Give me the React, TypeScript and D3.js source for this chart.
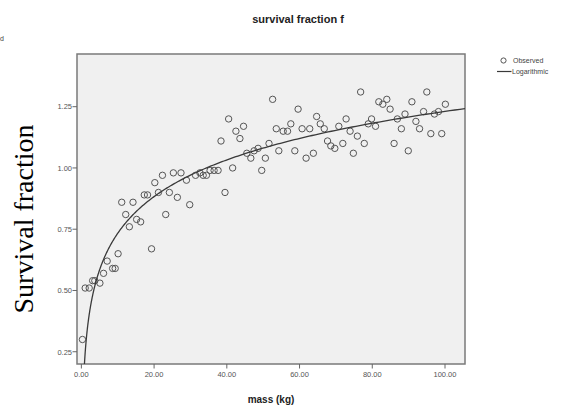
import React from "react";
import * as d3 from "d3";

const mass = [
  0.3, 1.05, 2.15, 3.1, 3.7, 5.1, 6.1, 7.1, 8.6, 9.3,
  10.1, 11.1, 12.2, 13.2, 14.2, 15.2, 16.3, 17.3, 18.2, 19.3,
  20.2, 21.2, 22.3, 23.2, 24.2, 25.3, 26.4, 27.4, 28.9, 29.8,
  31.4, 32.6, 33.5, 34.4, 35.4, 36.5, 37.6, 38.4, 39.5, 40.5,
  41.6, 42.5, 43.6, 44.6, 45.5, 46.6, 47.5, 48.6, 49.6, 50.6,
  51.6, 52.6, 53.6, 54.3, 55.5, 56.7, 57.6, 58.7, 59.6, 60.7,
  61.8, 62.8, 63.8, 64.7, 65.7, 66.8, 67.7, 68.6, 69.7, 70.8,
  71.9, 72.8, 73.9, 74.8, 75.9, 76.8, 77.8, 78.9, 79.8, 80.9,
  81.8, 82.9, 84.0, 84.9, 86.0, 86.9, 88.0, 89.0, 89.9, 90.9,
  92.0, 93.0, 94.1, 95.0, 96.1, 97.1, 98.2, 99.1, 100.1,
];
const survival = [
  0.3, 0.51, 0.51, 0.54, 0.54, 0.53, 0.57, 0.62, 0.59, 0.59,
  0.65, 0.86, 0.81, 0.76, 0.86, 0.79, 0.78, 0.89, 0.89, 0.67,
  0.94, 0.9, 0.97, 0.81, 0.9, 0.98, 0.88, 0.98, 0.95, 0.85,
  0.97, 0.98, 0.97, 0.97, 0.99, 0.99, 0.99, 1.11, 0.9, 1.2,
  1.0, 1.15, 1.12, 1.17, 1.06, 1.04, 1.07, 1.08, 0.99, 1.04,
  1.1, 1.28, 1.16, 1.07, 1.15, 1.15, 1.18, 1.07, 1.24, 1.16,
  1.04, 1.16, 1.06, 1.21, 1.18, 1.16, 1.11, 1.09, 1.08, 1.17,
  1.1, 1.2, 1.15, 1.06, 1.13, 1.31, 1.1, 1.18, 1.2, 1.17,
  1.27, 1.26, 1.28, 1.24, 1.1, 1.2, 1.16, 1.22, 1.07, 1.27,
  1.19, 1.16, 1.23, 1.31, 1.14, 1.22, 1.23, 1.14, 1.26,
];
const xTicks = [0, 20, 40, 60, 80, 100];
const yTicks = [0.25, 0.5, 0.75, 1.0, 1.25];
// logarithmic fit: f = a + b ln(mass)
const fitA = 0.236;
const fitB = 0.216;
const fitRange = [0.5, 105.5];

const W = 568;
const H = 408;
const L = 77, R = 465, T = 54, B = 364;

export default function App() {
  const x = d3.scaleLinear().domain([-1.2, 105.5]).range([L, R]);
  const y = d3.scaleLinear().domain([0.2, 1.465]).range([B, T]);
  const fitX = d3.range(0, 401).map((i) => fitRange[0] * Math.pow(fitRange[1] / fitRange[0], i / 400));
  const line = d3
    .line<number>()
    .x((d) => x(d))
    .y((d) => y(fitA + fitB * Math.log(d)));
  const font = "Arial, 'Liberation Sans', sans-serif";
  return (
    <svg width={W} height={H} style={{ position: "absolute", left: 0, top: 0, background: "#fff" }} fontFamily={font}>
      <defs>
        <clipPath id="plot">
          <rect x={L} y={T} width={R - L} height={B - T} />
        </clipPath>
      </defs>
      <text x={0} y={41} fontSize={7} fill="#444">d</text>
      <text x={298} y={23} textAnchor="middle" fontSize={11} fontWeight="bold" fill="#222">
        survival fraction f
      </text>
      <rect x={L} y={T} width={R - L} height={B - T} fill="#f0f0f0" stroke="#7a7a7a" strokeWidth={1.5} />
      <g clipPath="url(#plot)">
        {mass.map((m, i) => (
          <circle key={i} cx={x(m)} cy={y(survival[i])} r={3.2} fill="none" stroke="#555" strokeWidth={1} />
        ))}
        <path d={line(fitX) || ""} fill="none" stroke="#3a3a3a" strokeWidth={1.3} />
      </g>
      {yTicks.map((t) => (
        <g key={t}>
          <line x1={L - 4.5} x2={L} y1={y(t)} y2={y(t)} stroke="#666" strokeWidth={1} />
          <text x={L - 5} y={y(t) + 2.8} textAnchor="end" fontSize={7.5} fill="#555">
            {t.toFixed(2)}
          </text>
        </g>
      ))}
      {xTicks.map((t) => (
        <g key={t}>
          <line x1={x(t)} x2={x(t)} y1={B} y2={B + 4.5} stroke="#666" strokeWidth={1} />
          <text x={x(t)} y={B + 13} textAnchor="middle" fontSize={7.5} fill="#555">
            {t.toFixed(2)}
          </text>
        </g>
      ))}
      <text x={271} y={403} textAnchor="middle" fontSize={10} fontWeight="bold" fill="#222">
        mass (kg)
      </text>
      <text
        transform={`translate(33,219) rotate(-90)`}
        textAnchor="middle"
        fontSize={28}
        fontFamily="'Liberation Serif', 'Times New Roman', serif"
        fill="#000"
      >
        Survival fraction
      </text>
      <circle cx={503.5} cy={60.5} r={2.6} fill="none" stroke="#555" strokeWidth={1} />
      <text x={513} y={63} fontSize={7} fill="#444">Observed</text>
      <line x1={497} x2={511.5} y1={71.5} y2={71.5} stroke="#3a3a3a" strokeWidth={1.2} />
      <text x={512} y={74} fontSize={7} fill="#444">Logarithmic</text>
    </svg>
  );
}
